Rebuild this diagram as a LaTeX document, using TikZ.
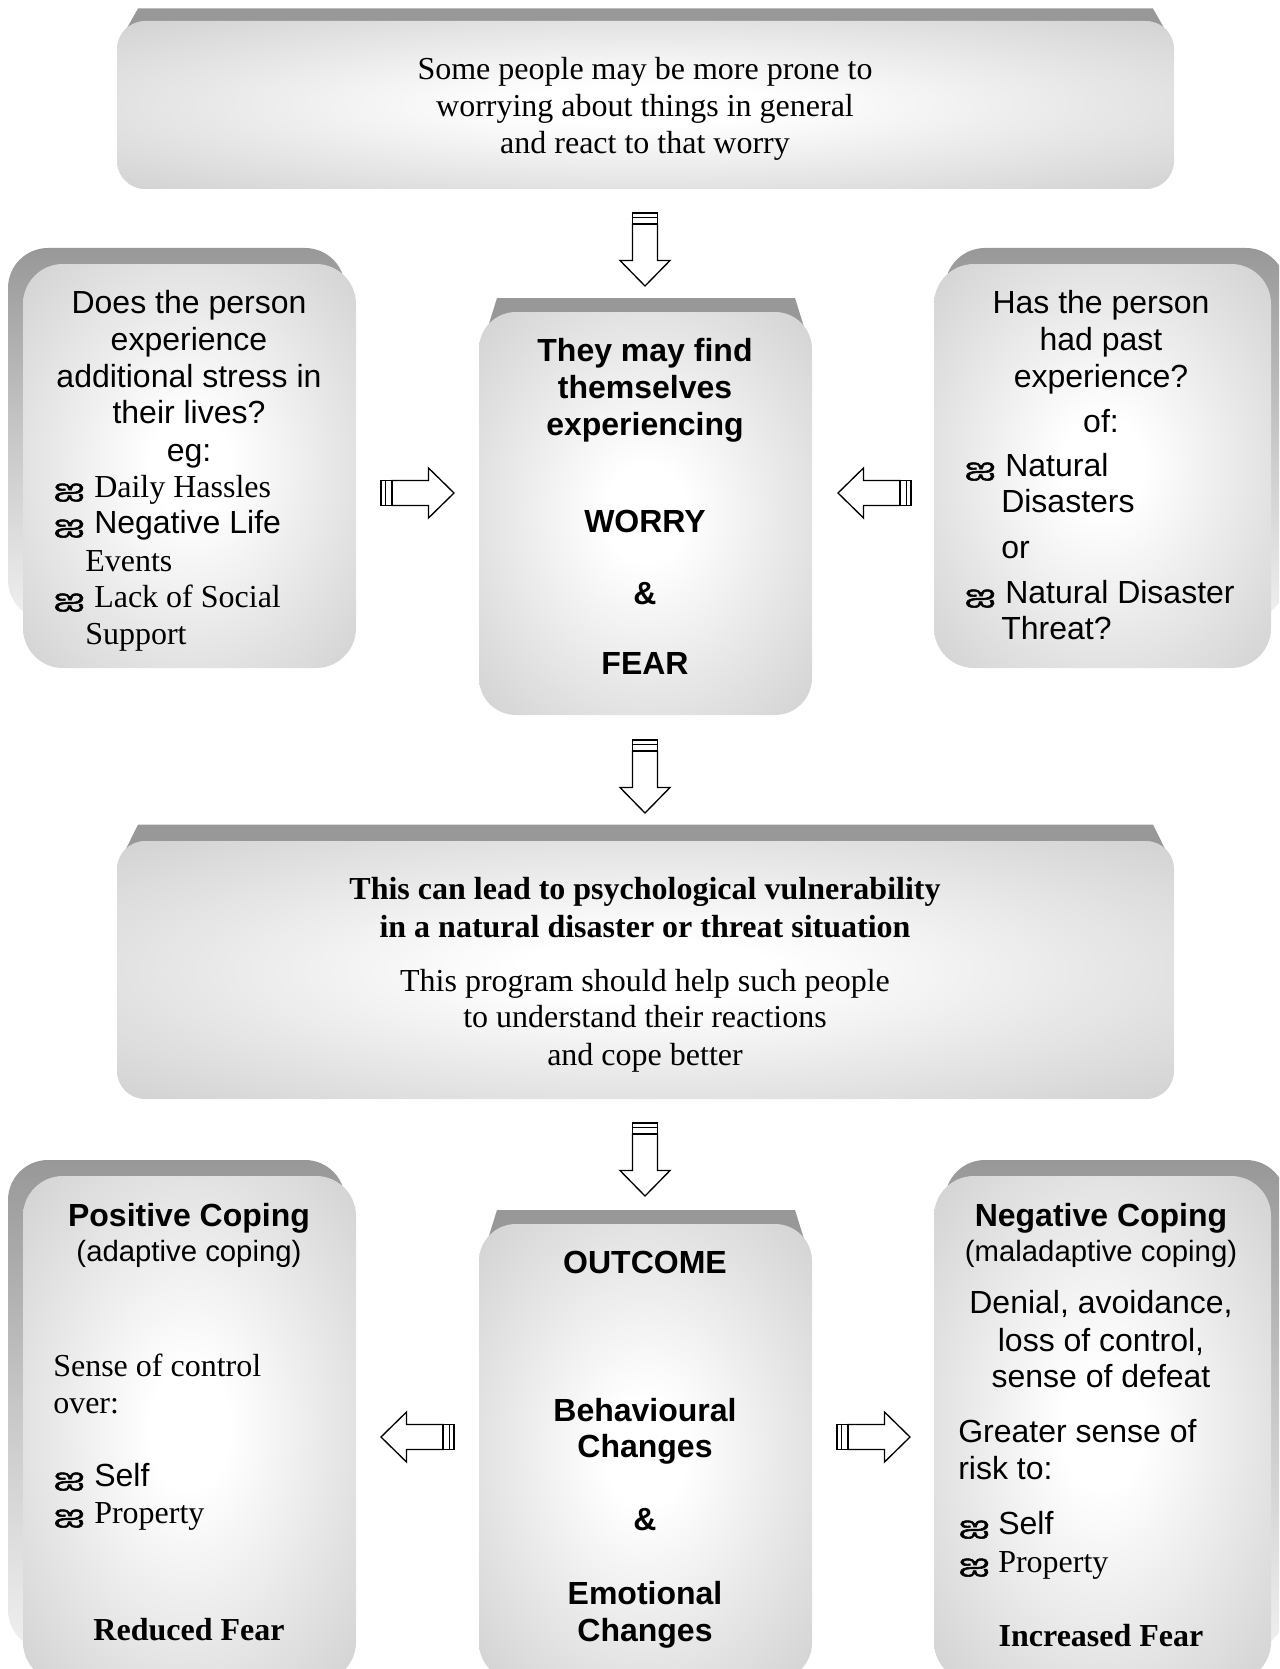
\documentclass[tikz,border=0pt]{standalone}
\usepackage{fontspec}
\setmainfont{Liberation Serif}
\setsansfont{Liberation Sans}
\newfontfamily\fbul[Script=Tamil,FakeStretch=1.55,FakeBold=2.2]{Hind Madurai}
\usetikzlibrary{calc}
\definecolor{facegray}{RGB}{206,206,206}
\definecolor{backgray}{RGB}{152,152,152}
\pgfdeclareradialshading{boxglow}{\pgfpoint{0bp}{0bp}}{color(0bp)=(white); color(6bp)=(white); color(38bp)=(facegray); color(50bp)=(facegray)}
\tikzset{
  face/.style={shading=boxglow, draw=none, inner sep=0pt, outer sep=0pt},
  backc/.style={fill=backgray, draw=none},
  backs/.style={top color=backgray, bottom color=black!6, middle color=black!22, draw=none},
  txs/.style={font=\sffamily\fontsize{24}{28}\selectfont, inner sep=0pt},
  txsb/.style={font=\sffamily\bfseries\fontsize{24}{28}\selectfont, inner sep=0pt},
  txss/.style={font=\sffamily\fontsize{22}{26}\selectfont, inner sep=0pt},
  txr/.style={font=\rmfamily\fontsize{24}{28}\selectfont, inner sep=0pt},
  txrb/.style={font=\rmfamily\bfseries\fontsize{24}{28}\selectfont, inner sep=0pt},
  bul/.style={font=\fbul\fontsize{18}{20}\selectfont, inner sep=0pt, anchor=base west},
  arrline/.style={draw=black, line width=1pt, fill=white},
  blockarr/.pic={
    \path[arrline] (11,-12.5) -- (47.5,-12.5) -- (47.5,-25) -- (73,0) -- (47.5,25) -- (47.5,12.5) -- (11,12.5) -- cycle;
    \path[arrline] (4.5,-12.5) rectangle (11,12.5);
    \path[arrline] (0,-12.5) rectangle (4.5,12.5);
  }
}
\begin{document}
\begin{tikzpicture}[x=0.75pt,y=-0.75pt]
\useasboundingbox (0,0) rectangle (1279,1669);
\clip (0,0) rectangle (1279,1669);

% ---------- box backs ----------
\path[backc] (123,35) -- (138,8.5) -- (1153,8.5) -- (1168,35) -- cycle;
\path[backc] (123,855) -- (138,824.5) -- (1153,824.5) -- (1168,855) -- cycle;
\path[backc] (487,330) -- (497,298) -- (795,298) -- (805,330) -- cycle;
\path[backc] (487,1242) -- (497,1210) -- (795,1210) -- (805,1242) -- cycle;
\path[backs, rounded corners=30pt] (8,248) rectangle (345,620);
\path[backs, rounded corners=30pt] (945,248) rectangle (1286,620);
\path[backs, rounded corners=30pt] (8,1160) rectangle (345,1650);
\path[backs, rounded corners=30pt] (945,1160) rectangle (1286,1650);

% ---------- box faces ----------
\node[face, rounded corners=21pt, minimum width=792.75pt, minimum height=126pt] (top) at (645.5,105) {};
\node[face, rounded corners=21pt, minimum width=792.75pt, minimum height=193.5pt] (mid) at (645.5,970) {};
\node[face, rounded corners=27.75pt, minimum width=249.75pt, minimum height=302.25pt] (cen) at (645.5,513.5) {};
\node[face, rounded corners=27.75pt, minimum width=249.75pt, minimum height=342pt] (out) at (645.5,1452) {};
\node[face, rounded corners=30pt, minimum width=249.75pt, minimum height=303pt] (lft) at (189.5,466) {};
\node[face, rounded corners=30pt, minimum width=252.75pt, minimum height=303pt] (rgt) at (1102.5,466) {};
\node[face, rounded corners=30pt, minimum width=249.75pt, minimum height=379.5pt] (pos) at (189.5,1429) {};
\node[face, rounded corners=30pt, minimum width=252.75pt, minimum height=379.5pt] (neg) at (1102.5,1429) {};

% ---------- top box text ----------
\node[txr, anchor=base] (t1) at (645,80) {Some people may be more prone to};
\node[txr, anchor=base] (t2) at (645,117) {worrying about things in general};
\node[txr, anchor=base] (t3) at (645,154) {and react to that worry};

% ---------- left box text ----------
\node[txs, anchor=base] (l1) at (189,313) {Does the person};
\node[txs, anchor=base] (l2) at (189,350) {experience};
\node[txs, anchor=base] (l3) at (189,387) {additional stress in};
\node[txs, anchor=base] (l4) at (189,423) {their lives?};
\node[txs, anchor=base] (l5) at (189,461) {eg:};
\node[bul] (lb1) at (53,497) {ஐ};
\node[txr, anchor=base west] (l6) at (94,497) {Daily Hassles};
\node[bul] (lb2) at (53,533) {ஐ};
\node[txs, anchor=base west] (l7) at (94,533) {Negative Life};
\node[txr, anchor=base west] (l8) at (85,571) {Events};
\node[bul] (lb3) at (53,607) {ஐ};
\node[txr, anchor=base west] (l9) at (94,607) {Lack of Social};
\node[txr, anchor=base west] (l10) at (85,644) {Support};

% ---------- centre box text ----------
\node[txsb, anchor=base] (c1) at (645,361) {They may find};
\node[txsb, anchor=base] (c2) at (645,398) {themselves};
\node[txsb, anchor=base] (c3) at (645,435) {experiencing};
\node[txsb, anchor=base] (c4) at (645,532) {WORRY};
\node[txsb, anchor=base] (c5) at (645,604) {\&};
\node[txsb, anchor=base] (c6) at (645,674) {FEAR};

% ---------- right box text ----------
\node[txs, anchor=base] (r1) at (1101,313) {Has the person};
\node[txs, anchor=base] (r2) at (1101,350) {had past};
\node[txs, anchor=base] (r3) at (1101,387) {experience?};
\node[txs, anchor=base] (r4) at (1101,432) {of:};
\node[bul] (rb1) at (964,476) {ஐ};
\node[txs, anchor=base west] (r5) at (1005,476) {Natural};
\node[txs, anchor=base west] (r6) at (1001,512) {Disasters};
\node[txs, anchor=base west] (r7) at (1001,558) {or};
\node[bul] (rb2) at (964,603) {ஐ};
\node[txs, anchor=base west] (r8) at (1005,603) {Natural Disaster};
\node[txs, anchor=base west] (r9) at (1001,639) {Threat?};

% ---------- middle box text ----------
\node[txrb, anchor=base] (m1) at (645,899) {This can lead to psychological vulnerability};
\node[txrb, anchor=base] (m2) at (645,937) {in a natural disaster or threat situation};
\node[txr, anchor=base] (m3) at (645,991) {This program should help such people};
\node[txr, anchor=base] (m4) at (645,1027) {to understand their reactions};
\node[txr, anchor=base] (m5) at (645,1065) {and cope better};

% ---------- bottom left text ----------
\node[txsb, anchor=base] (p1) at (189,1226) {Positive Coping};
\node[txss, anchor=base] (p2) at (189,1261) {(adaptive coping)};
\node[txr, anchor=base west] (p3) at (53,1376) {Sense of control};
\node[txr, anchor=base west] (p4) at (53,1413) {over:};
\node[bul] (pb1) at (53,1486) {ஐ};
\node[txs, anchor=base west] (p5) at (94,1486) {Self};
\node[bul] (pb2) at (53,1523) {ஐ};
\node[txr, anchor=base west] (p6) at (94,1523) {Property};
\node[txrb, anchor=base] (p7) at (189,1640) {Reduced Fear};

% ---------- bottom centre text ----------
\node[txsb, anchor=base] (o1) at (645,1273) {OUTCOME};
\node[txsb, anchor=base] (o2) at (645,1421) {Behavioural};
\node[txsb, anchor=base] (o3) at (645,1457) {Changes};
\node[txsb, anchor=base] (o4) at (645,1530) {\&};
\node[txsb, anchor=base] (o5) at (645,1604) {Emotional};
\node[txsb, anchor=base] (o6) at (645,1641) {Changes};

% ---------- bottom right text ----------
\node[txsb, anchor=base] (n1) at (1101,1226) {Negative Coping};
\node[txss, anchor=base] (n2) at (1101,1261) {(maladaptive coping)};
\node[txs, anchor=base] (n3) at (1101,1313) {Denial, avoidance,};
\node[txs, anchor=base] (n4) at (1101,1351) {loss of control,};
\node[txs, anchor=base] (n5) at (1101,1387) {sense of defeat};
\node[txs, anchor=base west] (n6) at (958,1442) {Greater sense of};
\node[txs, anchor=base west] (n7) at (958,1479) {risk to:};
\node[bul] (nb1) at (958,1534) {ஐ};
\node[txs, anchor=base west] (n8) at (998,1534) {Self};
\node[bul] (nb2) at (958,1572) {ஐ};
\node[txr, anchor=base west] (n9) at (998,1572) {Property};
\node[txrb, anchor=base] (n10) at (1101,1646) {Increased Fear};

% ---------- block arrows ----------
\coordinate (a1) at (645,213);
\coordinate (a2) at (645,740);
\coordinate (a3) at (645,1123);
\coordinate (a4) at (381,493);
\coordinate (a5) at (911,493);
\coordinate (a6) at (454,1437);
\coordinate (a7) at (837,1437);
\pic[rotate=-90] at (a1) {blockarr};
\pic[rotate=-90] at (a2) {blockarr};
\pic[rotate=-90] at (a3) {blockarr};
\pic at (a4) {blockarr};
\pic[rotate=180] at (a5) {blockarr};
\pic[rotate=180] at (a6) {blockarr};
\pic at (a7) {blockarr};
\end{tikzpicture}
\end{document}
